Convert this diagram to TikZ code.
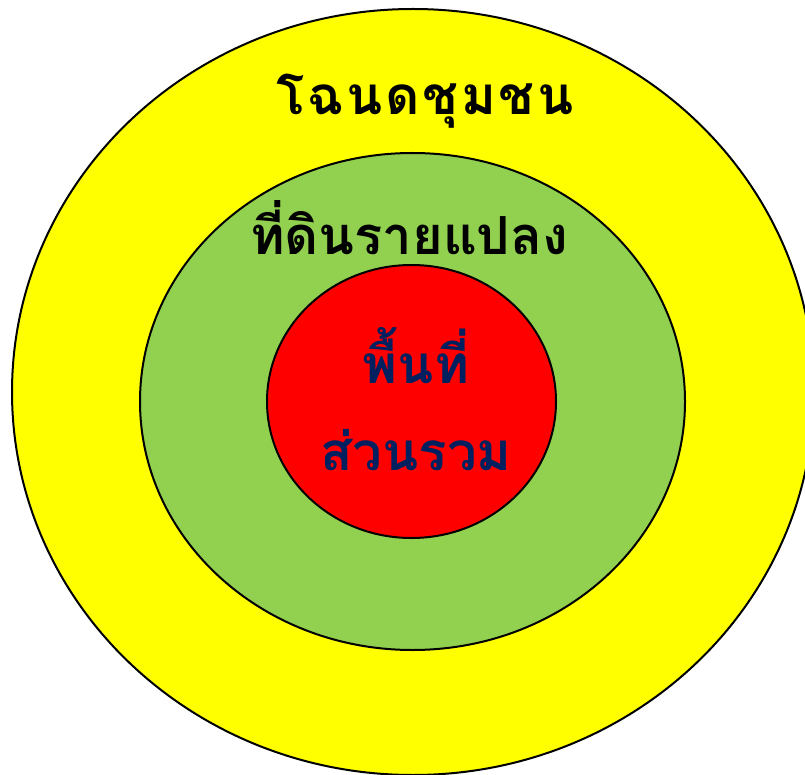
\documentclass[tikz,border=0pt]{standalone}
\usepackage{fontspec}
\newfontfamily\thaifont[Script=Thai]{Loma}
\newfontfamily\thaiwide[Script=Thai, LetterSpace=5]{Loma}
\usetikzlibrary{shapes.geometric}
\definecolor{zoneyellow}{HTML}{FFFF00}
\definecolor{plotgreen}{HTML}{92D050}
\definecolor{commonred}{HTML}{FF0000}
\definecolor{labelnavy}{HTML}{002060}
\begin{document}
\begin{tikzpicture}[
  x=1pt, y=-1pt,
  ring/.style={ellipse, draw=black, line width=2pt, inner sep=0pt},
  label/.style={anchor=base, inner sep=0pt}
]
  \clip (0,0) rectangle (805,775);
  % Rings
  \node[ring, fill=zoneyellow, minimum width=802pt, minimum height=766pt] (zone) at (413,392) {};
  \node[ring, fill=plotgreen, minimum width=545pt, minimum height=497pt] (plot) at (412.5,401.5) {};
  \node[ring, fill=commonred, minimum width=289pt, minimum height=273pt] (common) at (411.5,401.5) {};
  % Labels
  \node[label, font=\thaiwide\bfseries\fontsize{53}{60}\selectfont] (zonetext) at (425,115) {โฉนดชุมชน};
  \node[label, font=\thaifont\bfseries\fontsize{52.5}{60}\selectfont] (plottext) at (409,255) {ที่ดินรายแปลง};
  \node[label, text=labelnavy, font=\thaifont\bfseries\fontsize{53}{60}\selectfont] (commontop) at (416,383) {พื้นที่};
  \node[label, text=labelnavy, font=\thaifont\bfseries\fontsize{53}{60}\selectfont] (commonbot) at (416,470) {ส่วนรวม};
\end{tikzpicture}
\end{document}
